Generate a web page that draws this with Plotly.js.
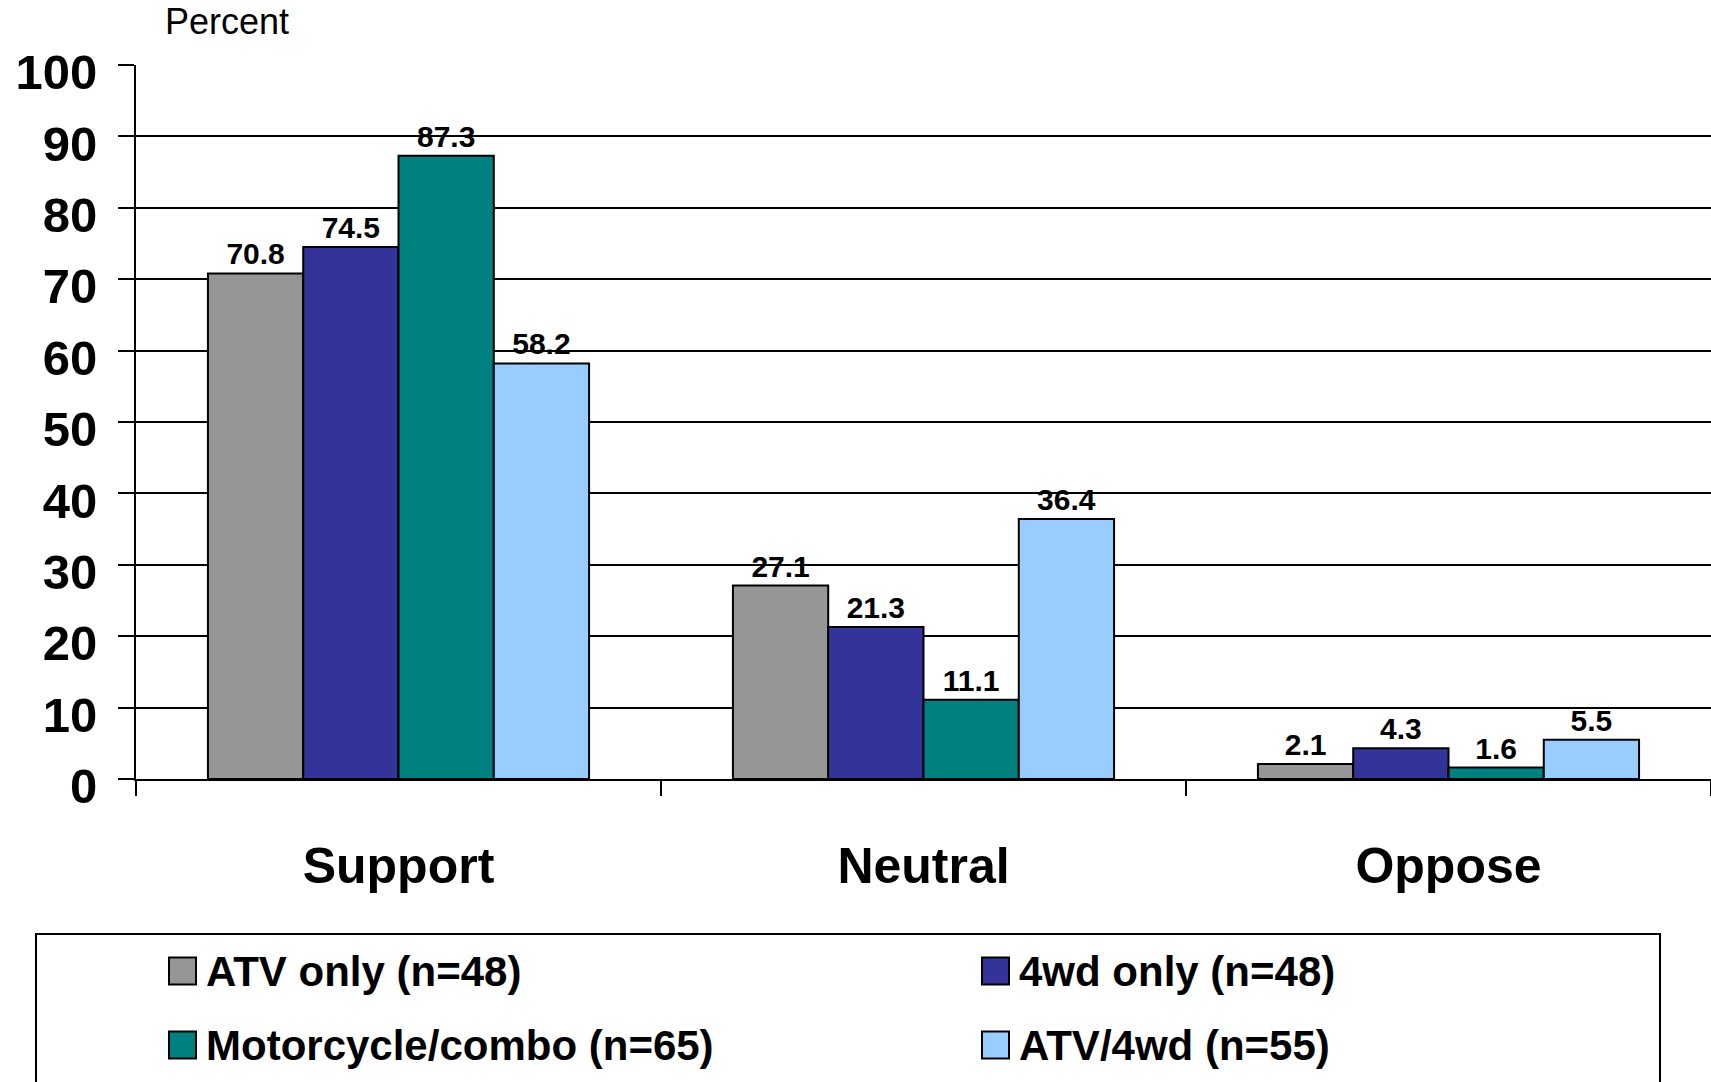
<!DOCTYPE html>
<html>
<head>
<meta charset="utf-8">
<script src="https://cdn.plot.ly/plotly-3.0.1.min.js"></script>
<style>html,body{margin:0;padding:0;background:#fff;}#chart{width:1711px;height:1082px;}</style>
</head>
<body>
<div id="chart"></div>
<script>
// ---- data ----
const categories = ["Support", "Neutral", "Oppose"];
const seriesNames = ["ATV only (n=48)", "4wd only (n=48)", "Motorcycle/combo (n=65)", "ATV/4wd (n=55)"];
const atvOnly   = [70.8, 27.1, 2.1];
const fourWdOnly = [74.5, 21.3, 4.3];
const motoCombo = [87.3, 11.1, 1.6];
const atv4wd    = [58.2, 36.4, 5.5];
const yTicks = [0, 10, 20, 30, 40, 50, 60, 70, 80, 90, 100];
const yAxisLabel = "Percent";

// ---- styles ----
const seriesValues = [atvOnly, fourWdOnly, motoCombo, atv4wd];
const colors = ["#969696", "#333399", "#008080", "#99CCFF"];
const FONT = "Liberation Sans, Arial, sans-serif";

const W = 1711, H = 1082;
const M = {l: 136, r: 0, t: 65, b: 303};
const PW = W - M.l - M.r, PH = H - M.t - M.b;
const px2x = p => (p - M.l) / PW;
const py2y = p => (M.t + PH - p) / PH;

const traces = seriesNames.map((name, i) => ({
  type: "bar",
  name: name,
  x: categories,
  y: seriesValues[i],
  marker: {color: colors[i], line: {color: "#000", width: 2}},
  text: seriesValues[i].map(v => v.toFixed(1)),
  textposition: "outside",
  textfont: {family: FONT, size: 30, color: "#000", weight: "bold"},
  cliponaxis: false,
  showlegend: false,
  hoverinfo: "x+y+name"
}));

// custom legend, built from series names and colours
const legendCols = [169, 982];
const legendRows = [971, 1045];
const sym = 27;
const shapes = [{
  type: "rect", xref: "paper", yref: "paper",
  x0: px2x(36), x1: px2x(1660), y0: py2y(1100), y1: py2y(934),
  line: {color: "#000", width: 2}, fillcolor: "rgba(0,0,0,0)", layer: "above"
}];
const annotations = [{
  text: yAxisLabel, xref: "paper", yref: "paper",
  x: px2x(227), y: py2y(22), xanchor: "center", yanchor: "middle",
  showarrow: false, font: {family: FONT, size: 36, color: "#000"}
}];
seriesNames.forEach((name, i) => {
  const cx = legendCols[i % 2], cy = legendRows[Math.floor(i / 2)];
  shapes.push({
    type: "rect", xref: "paper", yref: "paper",
    x0: px2x(cx), x1: px2x(cx + sym), y0: py2y(cy + sym / 2), y1: py2y(cy - sym / 2),
    line: {color: "#000", width: 2}, fillcolor: colors[i], layer: "above"
  });
  annotations.push({
    text: "<b>" + name + "</b>", xref: "paper", yref: "paper",
    x: px2x(cx + sym + 8), y: py2y(cy), xanchor: "left", yanchor: "middle",
    showarrow: false, font: {family: FONT, size: 42, color: "#000"}
  });
});

const layout = {
  width: W, height: H,
  margin: M,
  paper_bgcolor: "#fff", plot_bgcolor: "#fff",
  font: {family: FONT, color: "#000"},
  barmode: "group",
  bargap: 0.274,
  bargroupgap: 0,
  xaxis: {
    type: "category",
    showgrid: false,
    showline: true, linecolor: "#000", linewidth: 2,
    ticks: "outside", tickson: "boundaries", ticklen: 15, tickwidth: 2, tickcolor: "#000",
    tickfont: {family: FONT, size: 50, color: "#000", weight: "bold"},
    ticklabelstandoff: 42,
    fixedrange: true
  },
  yaxis: {
    range: [0, 100],
    tickvals: yTicks,
    ticktext: yTicks.map(String),
    showgrid: true, gridcolor: "#000", gridwidth: 2,
    zeroline: false,
    showline: true, linecolor: "#000", linewidth: 2,
    ticks: "outside", ticklen: 16, tickwidth: 2, tickcolor: "#000",
    tickfont: {family: FONT, size: 49, color: "#000", weight: "bold"},
    ticklabelstandoff: 11,
    ticklabelshift: 7,
    fixedrange: true
  },
  shapes: shapes,
  annotations: annotations
};

Plotly.newPlot("chart", traces, layout, {displayModeBar: false, staticPlot: true});
</script>
</body>
</html>
